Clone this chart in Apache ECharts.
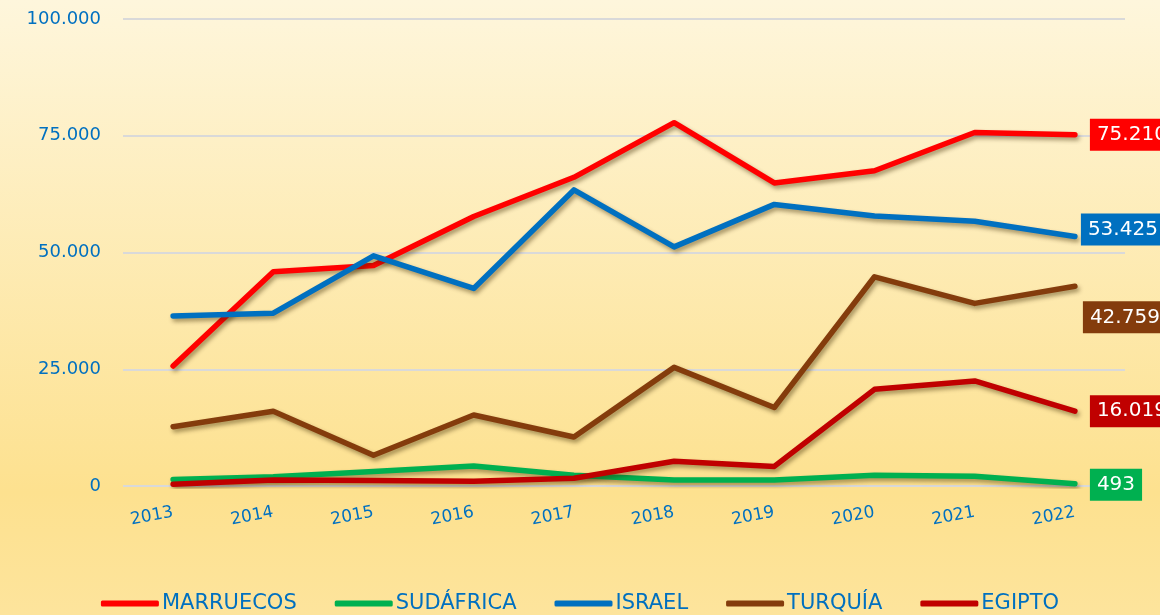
<!DOCTYPE html>
<html>
<head>
<meta charset="utf-8">
<script src="https://cdn.jsdelivr.net/npm/echarts@6/dist/echarts.min.js"></script>
<style>
  html, body { margin: 0; padding: 0; }
  #chart { width: 1160px; height: 615px; }
</style>
</head>
<body>
<div id="chart"></div>
<script>
var years = ['2013', '2014', '2015', '2016', '2017', '2018', '2019', '2020', '2021', '2022']
var marruecos = [25700, 45900, 47200, 57700, 66100, 77800, 64900, 67500, 75700, 75210]
var sudafrica = [1400, 2000, 3100, 4300, 2300, 1300, 1300, 2300, 2100, 493]
var israel = [36400, 37000, 49300, 42300, 63400, 51200, 60300, 57800, 56700, 53425]
var turquia = [12700, 16000, 6600, 15200, 10500, 25400, 16800, 44800, 39100, 42759]
var egipto = [400, 1300, 1200, 1000, 1650, 5300, 4200, 20700, 22500, 16019]

var blue = '#0070C0'
var font = 'DejaVu Sans'

function fmt (v) {
  return String(v).replace(/\B(?=(\d{3})+(?!\d))/g, '.')
}

function makeSeries (name, data, color, offset) {
  return {
    name: name,
    type: 'line',
    data: data,
    symbol: 'none',
    color: color,
    lineStyle: {
      color: color,
      width: 5.5,
      cap: 'round',
      join: 'round',
      shadowColor: 'rgba(60,40,0,0.45)',
      shadowBlur: 4,
      shadowOffsetX: 2,
      shadowOffsetY: 3
    },
    endLabel: {
      show: true,
      formatter: function (p) { return fmt(p.value) },
      backgroundColor: color,
      color: '#fff',
      fontFamily: font,
      fontSize: 20,
      lineHeight: 22,
      padding: [5, 7],
      distance: 15,
      offset: offset
    },
    animation: false
  }
}

var chart = echarts.init(document.getElementById('chart'))
chart.setOption({
  backgroundColor: {
    type: 'linear', x: 0, y: 0, x2: 0, y2: 1,
    colorStops: [
      { offset: 0, color: '#FEF6DC' },
      { offset: 0.8, color: '#FDE18F' },
      { offset: 1, color: '#FDE49C' }
    ]
  },
  grid: {
    left: 123,
    right: 35,
    top: 19,
    bottom: 129
  },
  legend: {
    top: 593,
    left: 'center',
    padding: 0,
    icon: 'roundRect',
    itemWidth: 58,
    itemHeight: 6,
    itemGap: 38,
    textStyle: {
      color: blue,
      fontFamily: font,
      fontSize: 21,
      padding: [0, 0, 0, -2]
    },
    data: ['MARRUECOS', 'SUDÁFRICA', 'ISRAEL', 'TURQUÍA', 'EGIPTO']
  },
  xAxis: {
    type: 'category',
    data: years,
    axisLine: { show: false },
    axisTick: { show: false },
    axisLabel: {
      color: blue,
      fontFamily: font,
      fontSize: 17,
      rotate: 11,
      margin: 26
    }
  },
  yAxis: {
    type: 'value',
    min: 0,
    max: 100000,
    interval: 25000,
    axisLine: { show: false },
    axisTick: { show: false },
    axisLabel: {
      color: blue,
      fontFamily: font,
      fontSize: 18,
      margin: 22,
      formatter: fmt
    },
    splitLine: {
      lineStyle: { color: '#D9D9D9', width: 2 }
    }
  },
  series: [
    makeSeries('MARRUECOS', marruecos, '#FF0000', [0, 0]),
    makeSeries('SUDÁFRICA', sudafrica, '#00B050', [0, 1]),
    makeSeries('ISRAEL', israel, blue, [-9, -7]),
    makeSeries('TURQUÍA', turquia, '#843C0C', [-7, 31]),
    makeSeries('EGIPTO', egipto, '#C00000', [0, 0])
  ]
})
</script>
</body>
</html>
